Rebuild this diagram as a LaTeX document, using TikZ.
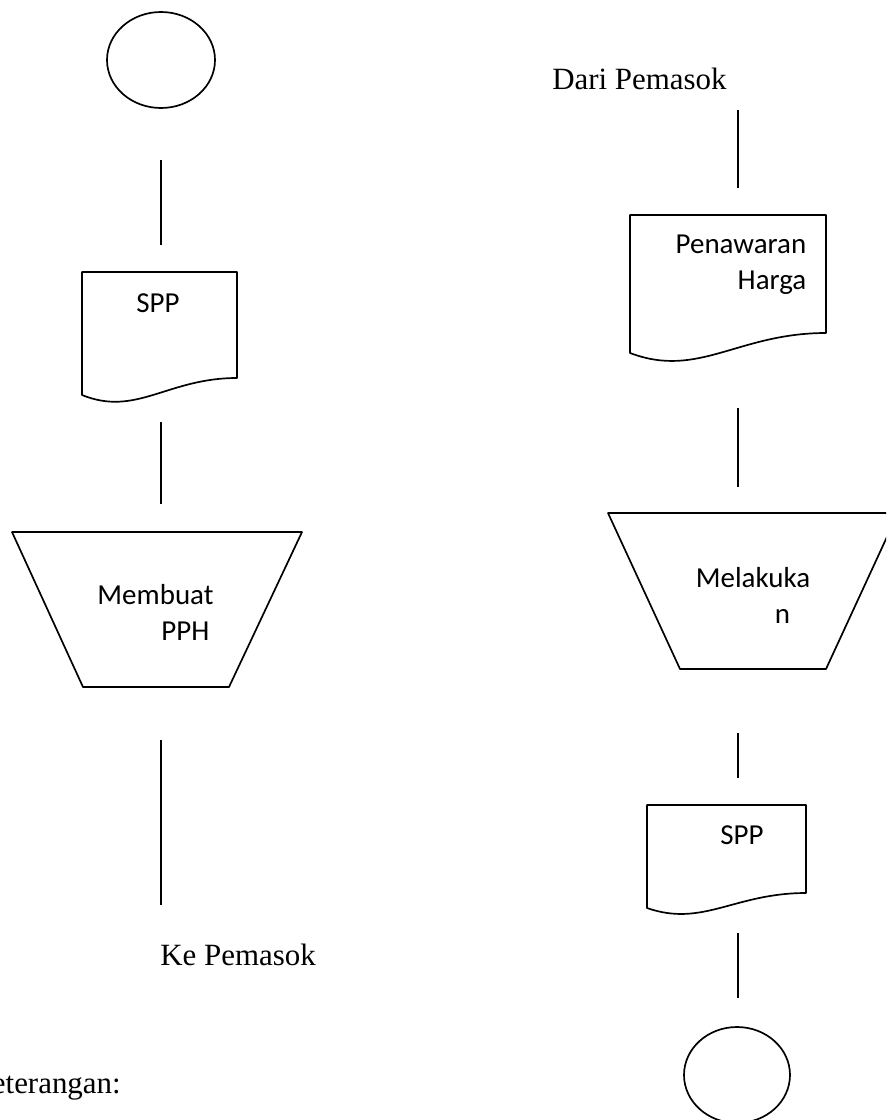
\documentclass[tikz,border=0pt]{standalone}
\usepackage{fontspec}
\setmainfont{Liberation Serif}
\newfontfamily\calibri{Carlito}
\usetikzlibrary{positioning}

% document symbol: left, top, right, left bottom, right bottom
\newcommand{\docbox}[5]{%
  \draw[shp] (#1,#4) -- (#1,#2) -- (#3,#2) -- (#3,#5)
    .. controls ({#1+0.55*(#3-#1)},#5) and ({#1+0.35*(#3-#1)},{#4+1.3*(#4-#5)}) .. (#1,#4) -- cycle;}

\begin{document}
\begin{tikzpicture}[x=0.25mm,y=-0.25mm,
    shp/.style={draw=black,line width=1.2pt,line join=round},
    ln/.style={draw=black,line width=1.2pt},
    lbl/.style={font=\calibri\fontsize{20.6}{25.6}\selectfont,inner sep=0pt,align=left},
    note/.style={font=\fontsize{22}{26}\selectfont,inner sep=0pt}]
    \useasboundingbox (0,0) rectangle (886,1120);
    \clip (0,0) rectangle (886,1120);

    % left column
    \draw[shp] (161,60) ellipse [x radius=54,y radius=48];
    \coordinate (l1a) at (161,160); \coordinate (l1b) at (161,245);
    \draw[ln] (l1a) -- (l1b);
    \docbox{82}{272}{237}{395}{378}
    \node[lbl] (spp1) at (158,303) {SPP};
    \coordinate (l2a) at (161,422); \coordinate (l2b) at (161,504);
    \draw[ln] (l2a) -- (l2b);
    \draw[shp] (12,532) -- (302,532) -- (229,687) -- (83,687) -- cycle;
    \node[lbl] (pph) at (155.5,612) {Membuat\\\hspace*{16mm}PPH};
    \coordinate (l3a) at (161,740); \coordinate (l3b) at (161,905);
    \draw[ln] (l3a) -- (l3b);
    \node[note,anchor=base west] (ke) at (160,965) {Ke Pemasok};
    \node[note,anchor=base east] (ket) at (121,1093) {Keterangan:};

    % right column
    \node[note,anchor=base west] (dari) at (552,90) {Dari Pemasok};
    \coordinate (r1a) at (738,110); \coordinate (r1b) at (738,188);
    \draw[ln] (r1a) -- (r1b);
    \docbox{630}{215}{826}{353}{333}
    \node[lbl] (harga) at (741,265) {Penawaran\\\hspace*{15.5mm}Harga};
    \coordinate (r2a) at (738,408); \coordinate (r2b) at (738,487);
    \draw[ln] (r2a) -- (r2b);
    \draw[shp] (608,513) -- (898,513) -- (826,669) -- (680,669) -- cycle;
    \node[lbl] (mlk) at (753,595) {Melakuka\\\hspace*{19.75mm}n};
    \coordinate (r3a) at (738,733); \coordinate (r3b) at (738,778);
    \draw[ln] (r3a) -- (r3b);
    \docbox{647}{805}{806}{908}{893}
    \node[lbl] (spp2) at (742,835) {SPP};
    \coordinate (r4a) at (738,933); \coordinate (r4b) at (738,998);
    \draw[ln] (r4a) -- (r4b);
    \draw[shp] (737,1075) ellipse [x radius=53,y radius=48];
\end{tikzpicture}
\end{document}
